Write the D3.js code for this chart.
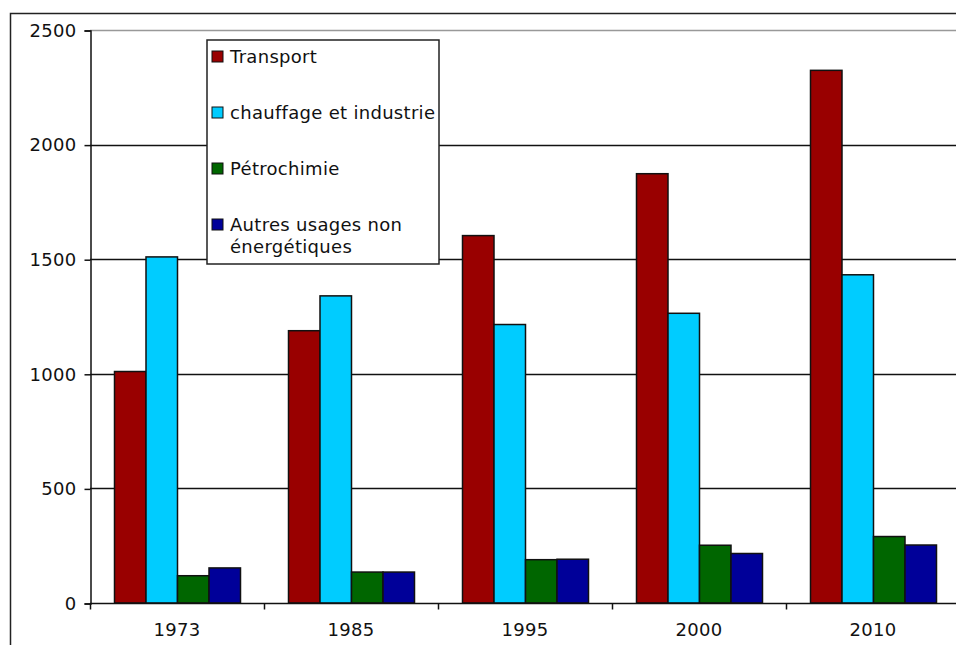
<!DOCTYPE html>
<html>
<head>
<meta charset="utf-8">
<script src="https://cdn.jsdelivr.net/npm/d3@7"></script>
<style>
  html, body { margin: 0; padding: 0; background: #fff; }
  svg { display: block; }
  text { font-family: "DejaVu Sans", Verdana, sans-serif; font-size: 18px; fill: #111; letter-spacing: 0.3px; }
</style>
</head>
<body>
<script>
// Consommation par usage (valeurs par année)
const years = ["1973", "1985", "1995", "2000", "2010"];
const seriesNames = ["Transport", "chauffage et industrie", "Pétrochimie", "Autres usages non énergétiques"];
const transport = [1010, 1188, 1603, 1873, 2324];
const chauffage = [1510, 1340, 1215, 1264, 1432];
const petrochimie = [119, 135, 189, 252, 290];
const autres = [153, 135, 191, 216, 253];
const colors = ["#990000", "#00ccff", "#006600", "#000099"];
const yTicks = [0, 500, 1000, 1500, 2000, 2500];

const W = 956, H = 645;
const svg = d3.select("body").append("svg").attr("width", W).attr("height", H);

// outer frame
svg.append("path")
  .attr("d", "M10.5,650 V13.5 H970")
  .attr("fill", "none").attr("stroke", "#222").attr("stroke-width", 1.5);

const plotL = 90, plotR = 960, plotT = 30, plotB = 603;
const y = d3.scaleLinear().domain([0, 2500]).range([plotB, plotT]);

const p = 48 / 174;
const x0 = d3.scaleBand().domain(years).range([plotL, plotR]).paddingInner(p).paddingOuter(p / 2);
const x1 = d3.scaleBand().domain(d3.range(seriesNames.length)).range([0, x0.bandwidth()]).padding(0);

const rows = years.map((yr, i) => ({ year: yr, values: [transport[i], chauffage[i], petrochimie[i], autres[i]] }));

// horizontal gridlines
svg.append("g").selectAll("line").data(yTicks.filter(t => t > 0)).join("line")
  .attr("x1", plotL).attr("x2", W + 10)
  .attr("y1", d => Math.round(y(d)) + 0.5).attr("y2", d => Math.round(y(d)) + 0.5)
  .attr("stroke", d => d === 2500 ? "#999" : "#111").attr("stroke-width", 1.5);

// bars
svg.append("g").selectAll("g").data(rows).join("g")
  .attr("transform", d => `translate(${x0(d.year)},0)`)
  .selectAll("rect").data(d => d.values.map((v, k) => ({ v, k }))).join("rect")
  .attr("x", d => x1(d.k) + 0.5)
  .attr("width", x1.bandwidth())
  .attr("y", d => y(d.v))
  .attr("height", d => y(0) - y(d.v))
  .attr("fill", d => colors[d.k])
  .attr("stroke", "#111").attr("stroke-width", 1.5);

// y axis
const yAxis = svg.append("g").attr("transform", `translate(${plotL + 0.5},0.5)`)
  .call(d3.axisLeft(y).tickValues(yTicks).tickSize(6).tickPadding(8).tickFormat(d3.format("d")));
yAxis.select(".domain").attr("stroke", "#111").attr("stroke-width", 1.5);
yAxis.selectAll(".tick line").attr("stroke", "#111").attr("stroke-width", 1.5);
yAxis.selectAll(".tick text").attr("font-size", null).attr("font-family", null).attr("fill", "#111");

// x axis: labels centered under each group, ticks at group boundaries
const xAxis = svg.append("g").attr("transform", `translate(0,${plotB + 0.5})`)
  .call(d3.axisBottom(x0).tickSize(0).tickPadding(20));
xAxis.select(".domain").remove();
xAxis.selectAll(".tick text").attr("font-size", null).attr("font-family", null).attr("fill", "#111");
xAxis.append("line").attr("x1", plotL).attr("x2", W + 10).attr("y1", 0).attr("y2", 0)
  .attr("stroke", "#111").attr("stroke-width", 1.5);
const step = x0.step();
xAxis.selectAll(".sep").data(years).join("line").attr("class", "sep")
  .attr("x1", (d, i) => Math.round(plotL + i * step) + 0.5)
  .attr("x2", (d, i) => Math.round(plotL + i * step) + 0.5)
  .attr("y1", 0).attr("y2", 6)
  .attr("stroke", "#111").attr("stroke-width", 1.5);

// legend
const lg = svg.append("g").attr("transform", "translate(207,40)");
lg.append("rect").attr("x", 0).attr("y", 0).attr("width", 232).attr("height", 224)
  .attr("fill", "#fff").attr("stroke", "#222").attr("stroke-width", 1.5);
const rowY = [11, 67, 123, 179];
const item = lg.selectAll("g.item").data(seriesNames).join("g").attr("class", "item")
  .attr("transform", (d, i) => `translate(5,${rowY[i]})`);
item.append("rect").attr("width", 11).attr("height", 11)
  .attr("fill", (d, i) => colors[i]).attr("stroke", "#111").attr("stroke-width", 1);
item.append("text").attr("x", 18).attr("y", 12)
  .each(function (d) {
    const t = d3.select(this);
    const parts = d === "Autres usages non énergétiques" ? ["Autres usages non", "énergétiques"] : [d];
    parts.forEach((s, j) => t.append("tspan").attr("x", 18).attr("dy", j === 0 ? 0 : 22).text(s));
  });
</script>
</body>
</html>
